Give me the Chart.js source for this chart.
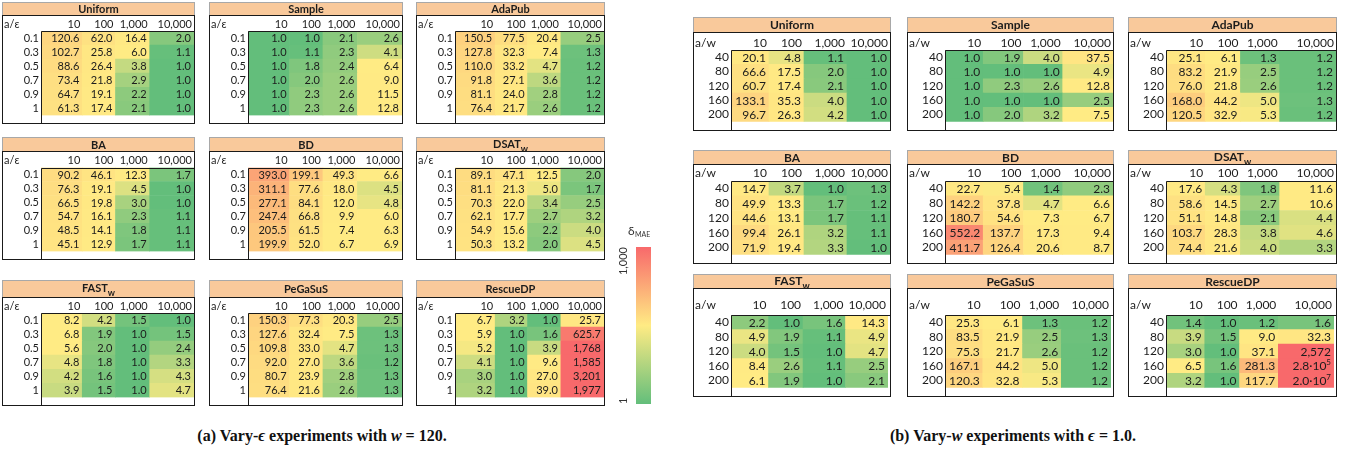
<!DOCTYPE html>
<html>
<head>
<meta charset="utf-8">
<title>δMAE heatmaps</title>
<script src="https://cdn.jsdelivr.net/npm/chart.js@4.4.1/dist/chart.umd.min.js"></script>
<style>
  html, body { margin: 0; padding: 0; background: #fff; }
  #stage { position: relative; width: 1361px; height: 459px; overflow: hidden; }
  #stage canvas { position: absolute; }
  .caption {
    position: absolute; top: 427px; transform: translateX(-50%);
    font-family: 'Liberation Serif', 'DejaVu Serif', serif; font-weight: bold;
    font-size: 16px; color: #111; white-space: nowrap;
  }
</style>
</head>
<body>
<div id="stage">
  <div class="caption" style="left:322px">(a) Vary-<i>ϵ</i> experiments with <i>w</i> = 120.</div>
  <div class="caption" style="left:1013px">(b) Vary-<i>w</i> experiments with <i>ϵ</i> = 1.0.</div>
</div>
<script>
// ---- axis labels ----
const COL_LABELS = ['10', '100', '1,000', '10,000'];
const EPS_LABELS = ['0.1', '0.3', '0.5', '0.7', '0.9', '1'];
const W_LABELS = ['40', '80', '120', '160', '200'];
const METHOD_NAMES = ['Uniform', 'Sample', 'AdaPub', 'BA', 'BD', 'DSAT', 'FAST', 'PeGaSuS', 'RescueDP'];
const METHOD_SUBS = ['', '', '', '', '', 'w', 'w', '', ''];
const COLORBAR_TICKS = [1, 1000];
const COLORBAR_LABELS = ['1', '1,000'];

// ---- vary-epsilon (w = 120): rows = epsilon, columns = a ----
const epsUniform = [[120.6, 62.0, 16.4, 2.0], [102.7, 25.8, 6.0, 1.1], [88.6, 26.4, 3.8, 1.0], [73.4, 21.8, 2.9, 1.0], [64.7, 19.1, 2.2, 1.0], [61.3, 17.4, 2.1, 1.0]];
const epsSample = [[1.0, 1.0, 2.1, 2.6], [1.0, 1.1, 2.3, 4.1], [1.0, 1.8, 2.4, 6.4], [1.0, 2.0, 2.6, 9.0], [1.0, 2.3, 2.6, 11.5], [1.0, 2.3, 2.6, 12.8]];
const epsAdaPub = [[150.5, 77.5, 20.4, 2.5], [127.8, 32.3, 7.4, 1.3], [110.0, 33.2, 4.7, 1.2], [91.8, 27.1, 3.6, 1.2], [81.1, 24.0, 2.8, 1.2], [76.4, 21.7, 2.6, 1.2]];
const epsBA = [[90.2, 46.1, 12.3, 1.7], [76.3, 19.1, 4.5, 1.0], [66.5, 19.8, 3.0, 1.0], [54.7, 16.1, 2.3, 1.1], [48.5, 14.1, 1.8, 1.1], [45.1, 12.9, 1.7, 1.1]];
const epsBD = [[393.0, 199.1, 49.3, 6.6], [311.1, 77.6, 18.0, 4.5], [277.1, 84.1, 12.0, 4.8], [247.4, 66.8, 9.9, 6.0], [205.5, 61.5, 7.4, 6.3], [199.9, 52.0, 6.7, 6.9]];
const epsDSAT = [[89.1, 47.1, 12.5, 2.0], [81.1, 21.3, 5.0, 1.7], [70.3, 22.0, 3.4, 2.5], [62.1, 17.7, 2.7, 3.2], [54.9, 15.6, 2.2, 4.0], [50.3, 13.2, 2.0, 4.5]];
const epsFAST = [[8.2, 4.2, 1.5, 1.0], [6.8, 1.9, 1.0, 1.5], [5.6, 2.0, 1.0, 2.4], [4.8, 1.8, 1.0, 3.3], [4.2, 1.6, 1.0, 4.3], [3.9, 1.5, 1.0, 4.7]];
const epsPeGaSuS = [[150.3, 77.3, 20.3, 2.5], [127.6, 32.4, 7.5, 1.3], [109.8, 33.0, 4.7, 1.3], [92.0, 27.0, 3.6, 1.2], [80.7, 23.9, 2.8, 1.3], [76.4, 21.6, 2.6, 1.3]];
const epsRescueDP = [[6.7, 3.2, 1.0, 25.7], [5.9, 1.0, 1.6, 625.7], [5.2, 1.0, 3.9, 1768], [4.1, 1.0, 9.6, 1585], [3.0, 1.0, 27.0, 3201], [3.2, 1.0, 39.0, 1977]];

// ---- vary-w (epsilon = 1.0): rows = w, columns = a ----
const wUniform = [[20.1, 4.8, 1.1, 1.0], [66.6, 17.5, 2.0, 1.0], [60.7, 17.4, 2.1, 1.0], [133.1, 35.3, 4.0, 1.0], [96.7, 26.3, 4.2, 1.0]];
const wSample = [[1.0, 1.9, 4.0, 37.5], [1.0, 1.0, 1.0, 4.9], [1.0, 2.3, 2.6, 12.8], [1.0, 1.0, 1.0, 2.5], [1.0, 2.0, 3.2, 7.5]];
const wAdaPub = [[25.1, 6.1, 1.3, 1.2], [83.2, 21.9, 2.5, 1.2], [76.0, 21.8, 2.6, 1.2], [168.0, 44.2, 5.0, 1.3], [120.5, 32.9, 5.3, 1.2]];
const wBA = [[14.7, 3.7, 1.0, 1.3], [49.9, 13.3, 1.7, 1.2], [44.6, 13.1, 1.7, 1.1], [99.4, 26.1, 3.2, 1.1], [71.9, 19.4, 3.3, 1.0]];
const wBD = [[22.7, 5.4, 1.4, 2.3], [142.2, 37.8, 4.7, 6.6], [180.7, 54.6, 7.3, 6.7], [552.2, 137.7, 17.3, 9.4], [411.7, 126.4, 20.6, 8.7]];
const wDSAT = [[17.6, 4.3, 1.8, 11.6], [58.6, 14.5, 2.7, 10.6], [51.1, 14.8, 2.1, 4.4], [103.7, 28.3, 3.8, 4.6], [74.4, 21.6, 4.0, 3.3]];
const wFAST = [[2.2, 1.0, 1.6, 14.3], [4.9, 1.9, 1.1, 4.9], [4.0, 1.5, 1.0, 4.7], [8.4, 2.6, 1.1, 2.5], [6.1, 1.9, 1.0, 2.1]];
const wPeGaSuS = [[25.3, 6.1, 1.3, 1.2], [83.5, 21.9, 2.5, 1.3], [75.3, 21.7, 2.6, 1.2], [167.1, 44.2, 5.0, 1.2], [120.3, 32.8, 5.3, 1.2]];
const wRescueDP = [[1.4, 1.0, 1.2, 1.6], [3.9, 1.5, 9.0, 32.3], [3.0, 1.0, 37.1, 2572], [6.5, 1.6, 281.3, 280000], [3.2, 1.0, 117.7, 20000000]];

const EPS_TABLES = [epsUniform, epsSample, epsAdaPub, epsBA, epsBD, epsDSAT, epsFAST, epsPeGaSuS, epsRescueDP];
const W_TABLES = [wUniform, wSample, wAdaPub, wBA, wBD, wDSAT, wFAST, wPeGaSuS, wRescueDP];

// ---- look ----
const FONT = "Lato, 'Open Sans', sans-serif";
const TEXT = '#1c1c1c';
const HEADER_FILL = '#F9C99B';
const HEADER_EDGE = '#A8A8A8';
const RULE = '#1a1a1a';
const GREEN = [99, 190, 123], YELLOW = [255, 235, 132], RED = [248, 105, 107];
const SCALE_MIN = 1, SCALE_MID = 5.5, SCALE_MAX = 720;

const rgb = c => `rgb(${c.map(Math.round).join(',')})`;
function mix(a, b, t) { return a.map((v, i) => v + (b[i] - v) * t); }
// three-colour scale: green at the minimum, yellow at the midpoint, red at the maximum
function heat(v) {
  let t;
  if (v <= SCALE_MID) {
    t = Math.max(0, (v - SCALE_MIN) / (SCALE_MID - SCALE_MIN));
    return rgb(mix(GREEN, YELLOW, Math.min(1, t)));
  }
  t = Math.min(1, (v - SCALE_MID) / (SCALE_MAX - SCALE_MID));
  return rgb(mix(YELLOW, RED, t));
}

function drawValue(ctx, v, xr, y, fs) {
  const base = `${fs}px ${FONT}`;
  if (v >= 1e5) {
    const e = Math.floor(Math.log10(v));
    const m = (v / Math.pow(10, e)).toFixed(1);
    ctx.font = `${Math.round(fs * 0.68)}px ${FONT}`;
    const ew = ctx.measureText(String(e)).width;
    ctx.fillText(String(e), xr, y - fs * 0.3);
    ctx.font = base;
    ctx.fillText(m + '·10', xr - ew, y);
  } else if (v >= 1000) {
    ctx.font = base;
    ctx.fillText(Math.round(v).toLocaleString('en-US'), xr, y);
  } else {
    ctx.font = base;
    ctx.fillText(v.toFixed(1), xr, y);
  }
}

// header band, corner label, cell values and rules of one table
const tableDecor = {
  id: 'tableDecor',
  beforeDraw(chart, args, o) {
    const { ctx, width } = chart;
    ctx.save();
    ctx.fillStyle = HEADER_FILL;
    ctx.fillRect(0, 0, width, o.headerH);
    ctx.strokeStyle = HEADER_EDGE;
    ctx.lineWidth = 1;
    ctx.strokeRect(0.5, 0.5, width - 1, o.headerH - 1);
    const tf = `bold ${o.titleSize}px ${FONT}`;
    const sf = `bold ${Math.round(o.titleSize * 0.78)}px ${FONT}`;
    ctx.font = tf; const tw = ctx.measureText(o.title).width;
    ctx.font = sf; const sw = o.sub ? ctx.measureText(o.sub).width : 0;
    const x0 = width / 2 - (tw + sw) / 2;
    const yc = o.headerH / 2 + 0.5 - (o.sub ? 1 : 0);
    ctx.fillStyle = TEXT;
    ctx.textBaseline = 'middle';
    ctx.textAlign = 'left';
    ctx.font = tf; ctx.fillText(o.title, x0, yc);
    if (o.sub) { ctx.font = sf; ctx.fillText(o.sub, x0 + tw, yc + o.titleSize * 0.42); }
    ctx.restore();
  },
  afterDatasetsDraw(chart, args, o) {
    const { ctx, width, height, chartArea: ca } = chart;
    const meta = chart.getDatasetMeta(0);
    const data = chart.data.datasets[0].data;
    ctx.save();
    ctx.fillStyle = TEXT;
    ctx.textBaseline = 'middle';
    ctx.textAlign = 'right';
    meta.data.forEach((bar, i) => drawValue(ctx, data[i].v, bar.x - o.pad, bar.y + 0.5, o.fs));
    // corner label
    ctx.textAlign = 'left';
    ctx.font = `${o.fs}px ${FONT}`;
    ctx.fillText(o.corner, 2, ca.top - o.labPad - o.fs * 0.6);
    // rules
    ctx.strokeStyle = RULE;
    ctx.lineWidth = 1;
    ctx.strokeRect(0.5, o.headerH - 0.5, width - 1, height - o.headerH);
    const l = Math.round(ca.left) + 0.5, t = Math.round(ca.top) + 0.5;
    ctx.beginPath();
    ctx.moveTo(l, height); ctx.lineTo(l, t); ctx.lineTo(width, t);
    ctx.stroke();
    ctx.restore();
  }
};

// column edges on a 0..1 axis from relative column widths
function edgesFrom(share) {
  const total = share.reduce((a, b) => a + b, 0);
  const e = [0];
  share.forEach(s => e.push(e[e.length - 1] + s / total));
  e[e.length - 1] = 1;
  return e;
}

function cells(values, rowLabels, edges) {
  const out = [];
  values.forEach((row, r) => row.forEach((v, c) => out.push({ y: rowLabels[r], x: [edges[c], edges[c + 1]], v })));
  return out;
}

const stage = document.getElementById('stage');
function addCanvas(x, y, w, h) {
  const cv = document.createElement('canvas');
  cv.width = w; cv.height = h;
  cv.style.left = x + 'px'; cv.style.top = y + 'px';
  stage.appendChild(cv);
  return cv;
}

function makeTable(s) {
  const H = Math.round(s.head + s.lab + s.rowLabels.length * s.cell + 1);
  const cv = addCanvas(s.x, s.y, s.w, H);
  const edges = edgesFrom(s.share);
  new Chart(cv, {
    type: 'bar',
    data: {
      labels: s.rowLabels,
      datasets: [{
        data: cells(s.values, s.rowLabels, edges),
        backgroundColor: c => heat(c.raw.v),
        borderWidth: 0,
        barPercentage: 1,
        categoryPercentage: 1
      }]
    },
    options: {
      indexAxis: 'y',
      responsive: false,
      animation: false,
      devicePixelRatio: 1,
      layout: { padding: { top: s.head, right: 1, bottom: 1, left: 0 } },
      plugins: {
        legend: { display: false },
        tooltip: { enabled: false },
        tableDecor: {
          title: s.title, sub: s.sub, corner: s.corner, headerH: s.head,
          titleSize: s.fs, fs: s.fs, pad: 3, labPad: s.labPad
        }
      },
      scales: {
        x: {
          type: 'linear', position: 'top', min: 0, max: 1,
          grid: { display: false, drawTicks: false }, border: { display: false },
          afterBuildTicks: sc => { sc.ticks = edges.slice(1).map(value => ({ value })); },
          ticks: {
            autoSkip: false, maxRotation: 0, minRotation: 0,
            align: 'end', labelOffset: -2, padding: s.labPad, color: TEXT,
            font: { size: s.fs, family: FONT },
            callback: (v, i) => COL_LABELS[i]
          },
          afterFit: sc => { sc.height = s.lab; }
        },
        y: {
          type: 'category',
          grid: { display: false, drawTicks: false }, border: { display: false },
          ticks: { padding: 2, autoSkip: false, color: TEXT, font: { size: s.fs, family: FONT } },
          afterFit: sc => { sc.width = s.rowLabW; }
        }
      }
    },
    plugins: [tableDecor]
  });
}

// ---- grid placement ----
const LEFT_COLS = [{ x: 2, w: 193 }, { x: 209, w: 194 }, { x: 416, w: 189 }];
const LEFT_ROWS = [{ y: 2, head: 14, lab: 15, labPad: 0 }, { y: 137, head: 15, lab: 15.5, labPad: 0 }, { y: 280, head: 18, lab: 15, labPad: 0 }];
const LEFT_SHARE = [41, 33, 34, 44];
const RIGHT_COLS = [{ x: 693, w: 198, share: [38, 35, 43, 43] }, { x: 907, w: 207, share: [38, 40, 39, 50] }, { x: 1128, w: 209, share: [39, 35, 39, 56] }];
const RIGHT_ROWS = [{ y: 17, head: 16, lab: 17, cell: 16, labPad: 0 }, { y: 150, head: 15, lab: 16, cell: 16.4, labPad: 1 }, { y: 274, head: 15, lab: 26, cell: 16.2, labPad: 3 }];

METHOD_NAMES.forEach((name, i) => {
  const lc = LEFT_COLS[i % 3], lr = LEFT_ROWS[Math.floor(i / 3)];
  makeTable({
    x: lc.x, y: lr.y, w: lc.w, head: lr.head, lab: lr.lab, cell: 15.33, labPad: lr.labPad,
    rowLabW: 39, fs: 11, share: LEFT_SHARE, title: name, sub: METHOD_SUBS[i], corner: 'a/ε',
    rowLabels: EPS_LABELS, values: EPS_TABLES[i]
  });
  const rc = RIGHT_COLS[i % 3], rr = RIGHT_ROWS[Math.floor(i / 3)];
  makeTable({
    x: rc.x, y: rr.y, w: rc.w, head: rr.head, lab: rr.lab, cell: rr.cell, labPad: rr.labPad,
    rowLabW: 38, fs: 12, share: rc.share, title: name, sub: METHOD_SUBS[i], corner: 'a/w',
    rowLabels: W_LABELS, values: W_TABLES[i]
  });
});

// ---- colour legend ----
const colorbarDecor = {
  id: 'colorbarDecor',
  afterDraw(chart) {
    const { ctx, chartArea: ca } = chart;
    const ys = chart.scales.y;
    ctx.save();
    ctx.fillStyle = '#333';
    ctx.font = `11px ${FONT}`;
    ctx.textBaseline = 'middle';
    [0, 1].forEach(k => {
      ctx.save();
      ctx.translate(23, ys.getPixelForValue(COLORBAR_TICKS[k]));
      ctx.rotate(-Math.PI / 2);
      ctx.textAlign = k === 0 ? 'left' : 'right';
      ctx.fillText(COLORBAR_LABELS[k], 0, 0);
      ctx.restore();
    });
    ctx.textAlign = 'left';
    ctx.font = `12px ${FONT}`;
    const dw = ctx.measureText('δ').width;
    ctx.fillText('δ', 28, ca.top - 16);
    ctx.font = `7px ${FONT}`;
    ctx.fillText('MAE', 28 + dw + 0.5, ca.top - 12);
    ctx.restore();
  }
};

const cb = addCanvas(600, 220, 70, 190);
new Chart(cb, {
  type: 'bar',
  data: {
    labels: ['δMAE'],
    datasets: [{
      data: [[COLORBAR_TICKS[0], COLORBAR_TICKS[1]]],
      backgroundColor: c => {
        const ca = c.chart.chartArea;
        if (!ca) return rgb(YELLOW);
        const g = c.chart.ctx.createLinearGradient(0, ca.bottom, 0, ca.top);
        g.addColorStop(0, rgb(GREEN));
        g.addColorStop(0.5, rgb(YELLOW));
        g.addColorStop(1, rgb(RED));
        return g;
      },
      borderWidth: 0,
      barPercentage: 1,
      categoryPercentage: 1
    }]
  },
  options: {
    responsive: false,
    animation: false,
    devicePixelRatio: 1,
    layout: { padding: { left: 36, right: 19, top: 27, bottom: 6 } },
    plugins: { legend: { display: false }, tooltip: { enabled: false } },
    scales: {
      x: { display: false },
      y: { type: 'logarithmic', min: COLORBAR_TICKS[0], max: COLORBAR_TICKS[1], display: false }
    }
  },
  plugins: [colorbarDecor]
});
</script>
</body>
</html>
